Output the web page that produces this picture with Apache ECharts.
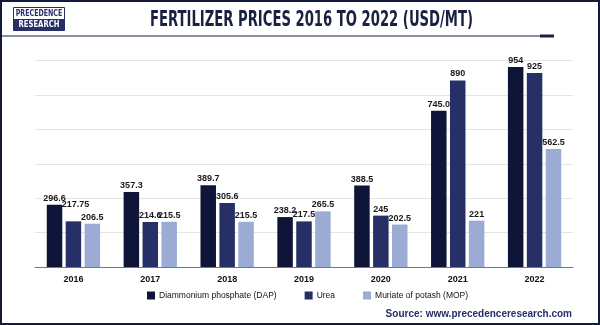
<!DOCTYPE html>
<html><head><meta charset="utf-8">
<script src="https://cdn.jsdelivr.net/npm/echarts@6/dist/echarts.min.js"></script>
<style>html,body{margin:0;padding:0;background:#fff}#c{width:600px;height:325px}</style>
</head><body><div id="c"></div>
<script>
const categories = ['2016','2017','2018','2019','2020','2021','2022'];
const dap = [296.6, 357.3, 389.7, 238.2, 388.5, 745.0, 954];
const urea = [217.75, 214.6, 305.6, 217.5, 245, 890, 925];
const mop = [206.5, 215.5, 215.5, 265.5, 202.5, 221, 562.5];
const dapLabels = ['296.6','357.3','389.7','238.2','388.5','745.0','954'];
const ureaLabels = ['217.75','214.6','305.6','217.5','245','890','925'];
const mopLabels = ['206.5','215.5','215.5','265.5','202.5','221','562.5'];
const seriesNames = ['Diammonium phosphate (DAP)','Urea','Muriate of potash (MOP)'];
const colors = ['#0f1538','#262f66','#9babd3'];
const titleText = 'FERTILIZER PRICES 2016 TO 2022 (USD/MT)';

const titleFont = 'bold 21px "DejaVu Sans Condensed"';
const mctx = document.createElement('canvas').getContext('2d');
mctx.font = titleFont;
const titleW = mctx.measureText(titleText).width;
const titleScale = 323 / titleW;

const chart = echarts.init(document.getElementById('c'), null, {renderer:'canvas'});
function mk(name, data, labels, color, raise){
  return {
    name, type:'bar', barWidth:15.5, barGap:'22%',
    data: data.map((v,i)=> raise && raise[i] ? {value:v, label:{offset:[2,-raise[i]]}} : v),
    itemStyle:{color},
    label:{show:true, position:'top', distance:2, color:'#1a1a1a', fontSize:9, fontWeight:'bold',
      fontFamily:'Liberation Sans', formatter:p=>labels[p.dataIndex]}
  };
}
chart.setOption({
  animation:false,
  color:colors,
  grid:{left:35, right:27, top:60.7, bottom:58},
  legend:{bottom:20, left:142, itemWidth:8, itemHeight:8, itemGap:28, icon:'rect',
    textStyle:{fontSize:8.5, fontFamily:'Liberation Sans', color:'#111', padding:[0,0,0,-1]}},
  xAxis:{type:'category', data:categories,
    axisLine:{lineStyle:{color:'#777', width:1}}, axisTick:{show:false},
    axisLabel:{color:'#111', fontWeight:'bold', fontSize:9, fontFamily:'Liberation Sans', margin:8}},
  yAxis:{type:'value', min:0, max:984, interval:164, axisLabel:{show:false},
    axisLine:{show:false}, axisTick:{show:false},
    splitLine:{lineStyle:{color:'#e4e4e4', width:1}}},
  series:[mk(seriesNames[0], dap, dapLabels, colors[0]), mk(seriesNames[1], urea, ureaLabels, colors[1], {0:10}), mk(seriesNames[2], mop, mopLabels, colors[2])],
  graphic:[
    {type:'rect', shape:{x:1, y:1, width:598, height:323}, style:{fill:'none', stroke:'#141a3a', lineWidth:2}, z:100},
    {type:'line', shape:{x1:0, y1:36, x2:540, y2:36}, style:{stroke:'#1b2040', lineWidth:1.2}},
    {type:'rect', shape:{x:540, y:34.5, width:14, height:3}, style:{fill:'#1b2040'}},
    {type:'text', x:311.5, y:21, scaleX:titleScale, style:{text:titleText, fill:'#1b2040', font:titleFont, align:'center', verticalAlign:'middle'}},
    {type:'rect', shape:{x:13.5, y:7.5, width:51, height:23}, style:{fill:'#fff', stroke:'#262f66', lineWidth:1}},
    {type:'rect', shape:{x:13.5, y:19, width:51, height:11.5}, style:{fill:'#262f66'}},
    {type:'text', x:39, y:13.5, scaleX:0.78, style:{text:'PRECEDENCE', fill:'#262f66', fontSize:9, fontWeight:'bold', fontFamily:'DejaVu Sans Condensed', align:'center', verticalAlign:'middle'}},
    {type:'text', x:39, y:25, scaleX:0.8, style:{text:'RESEARCH', fill:'#fff', fontSize:9.5, fontWeight:'bold', fontFamily:'DejaVu Sans Condensed', align:'center', verticalAlign:'middle'}},
    {type:'text', x:572, y:314, style:{text:'Source: www.precedenceresearch.com', fill:'#262f66', fontSize:10, fontWeight:'bold', fontFamily:'Liberation Sans', align:'right', verticalAlign:'middle'}}
  ]
});
</script></body></html>
